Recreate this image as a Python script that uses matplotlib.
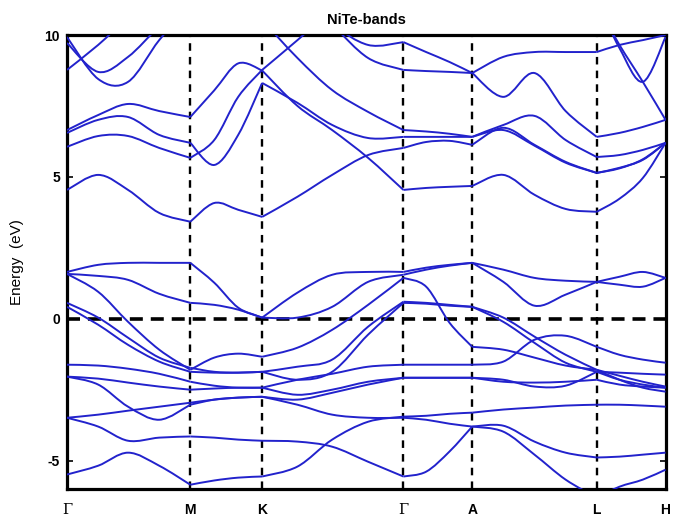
import numpy as np
import matplotlib
matplotlib.use("Agg")
import matplotlib.pyplot as plt
from matplotlib.path import Path
from matplotlib.patches import PathPatch

nan = np.nan

# High-symmetry points along the path (fractional path length)
kpoint_labels = ["Γ", "M", "K", "Γ", "A", "L", "H"]
kpoint_pos = [0.0, 0.206, 0.326, 0.562, 0.677, 0.885, 1.0]
kpoint_index = [0, 4, 7, 11, 14, 18, 21]

# k sample positions at which band energies were read
k_grid = [0.000, 0.052, 0.102, 0.154, 0.206, 0.246, 0.286, 0.326, 0.385, 0.443,
          0.503, 0.562, 0.600, 0.639, 0.677, 0.729, 0.781, 0.833, 0.885, 0.923,
          0.962, 1.000]

# Valence bands (eV)
band_v1 = [1.65, 1.90, 1.97, 1.97, 1.97, 1.27, 0.39, 0.04, 0.92, 1.55, 1.65, 1.65, 1.80, 1.90, 1.97, 1.73, 1.44, 1.34, 1.30, 1.48, 1.65, 1.44]
band_v2 = [1.58, 1.51, 1.37, 0.88, 0.56, 0.49, 0.32, 0.04, 0.04, 0.42, 1.30, 1.55, 1.73, 1.87, 1.97, 1.30, 0.46, 0.85, 1.30, 1.20, 1.13, 1.44]
band_v3 = [1.58, 0.95, -0.11, -1.09, -1.80, -1.37, -1.23, -1.34, -1.02, -0.39, 0.49, 1.44, 1.13, -0.14, -0.99, -1.09, -1.37, -1.65, -1.80, -2.01, -2.22, -2.39]
band_v4 = [0.56, 0.04, -0.67, -1.37, -1.73, -1.87, -1.90, -1.87, -1.69, -1.44, -0.28, 0.60, 0.56, 0.49, 0.42, 0.04, -0.63, -1.27, -1.80, -2.15, -2.43, -2.57]
band_v5 = [0.42, -0.21, -0.92, -1.51, -1.87, -1.90, -1.90, -1.87, -2.15, -1.87, -0.56, 0.56, 0.53, 0.46, 0.42, -0.11, -0.85, -1.55, -1.87, -1.90, -1.94, -1.97]
band_v6 = [-1.62, -1.65, -1.76, -1.94, -2.22, -2.36, -2.43, -2.43, -2.15, -1.94, -1.69, -1.62, -1.62, -1.62, -1.62, -1.51, -0.74, -0.60, -0.99, -1.27, -1.44, -1.55]
band_v7 = [-2.04, -2.11, -2.25, -2.39, -2.50, -2.46, -2.43, -2.43, -2.68, -2.50, -2.22, -2.08, -2.08, -2.08, -2.08, -2.15, -2.39, -2.36, -1.87, -2.15, -2.32, -2.43]
band_v8 = [-2.04, -2.32, -3.10, -3.56, -3.03, -2.85, -2.78, -2.75, -2.85, -2.61, -2.32, -2.08, -2.08, -2.08, -2.08, -2.22, -2.25, -2.22, -2.15, -2.32, -2.39, -2.43]
band_v9 = [-3.49, -3.38, -3.24, -3.10, -2.96, -2.85, -2.78, -2.75, -3.03, -3.38, -3.49, -3.49, -3.56, -3.70, -3.80, -3.77, -4.33, -4.72, -4.89, -4.86, -4.79, -4.72]
band_v10 = [-3.49, -3.80, -4.30, -4.19, -4.15, -4.19, -4.26, -4.30, -4.33, -4.51, -5.04, -5.56, -5.39, -4.68, -3.80, -3.98, -4.79, -5.67, -6.30, -5.92, -5.67, -5.32]
band_v11 = [-5.49, -5.18, -4.72, -5.18, -5.85, -5.70, -5.60, -5.56, -5.21, -4.26, -3.63, -3.45, -3.42, -3.35, -3.31, -3.20, -3.13, -3.06, -3.03, -3.03, -3.06, -3.10]

# Conduction bands (eV)
band_c1 = [4.54, 5.07, 4.54, 3.73, 3.42, 4.08, 3.84, 3.59, 4.30, 5.07, 5.77, 6.02, 6.23, 6.27, 6.13, 6.73, 6.13, 5.53, 5.14, 5.32, 5.60, 6.20]
band_c2 = [6.06, 6.44, 6.44, 6.02, 5.67, 6.30, 7.82, 8.77, 9.82, 10.88, 11.94, nan, nan, nan, nan, nan, nan, nan, nan, nan, nan, nan]
band_c3 = [6.55, 7.01, 7.11, 6.48, 6.20, 5.42, 6.48, 8.31, 7.61, 6.83, 6.37, 6.41, 6.41, 6.41, 6.41, 6.83, 7.15, 6.30, 5.70, 5.77, 5.95, 6.20]
band_c4 = [6.65, 7.18, 7.57, 7.32, 7.11, 8.05, 9.00, 8.75, 7.50, 6.65, 5.67, 4.54, 4.61, 4.65, 4.68, 5.07, 4.37, 3.87, 3.77, 4.23, 4.96, 6.20]
band_c5 = [nan, nan, nan, nan, nan, nan, nan, 10.53, 9.19, 8.06, 7.29, 6.65, 6.60, 6.52, 6.41, 6.65, 6.10, 5.50, 5.14, 5.30, 5.62, 6.20]
band_c6 = [9.93, 8.45, 8.35, 9.82, 11.06, nan, nan, nan, nan, nan, nan, nan, nan, nan, nan, nan, nan, nan, nan, nan, nan, nan]
band_c7 = [9.72, 8.70, 9.23, 10.30, 11.20, nan, nan, nan, nan, nan, nan, nan, nan, nan, nan, nan, nan, nan, nan, nan, nan, nan]
band_c8 = [8.77, 9.65, 10.60, 11.30, 12.00, nan, nan, nan, nan, nan, nan, nan, nan, nan, nan, nan, nan, nan, nan, nan, nan, nan]
band_c9 = [nan, nan, nan, nan, nan, nan, nan, 11.94, 11.41, 10.35, 9.19, 8.77, 8.73, 8.70, 8.66, 9.23, 9.40, 9.40, 9.40, 9.65, 9.82, 10.00]
band_c10 = [nan, nan, nan, nan, nan, nan, nan, 12.30, 11.60, 10.40, 9.65, 9.75, 9.40, 9.05, 8.66, 7.82, 8.66, 7.32, 6.41, 6.55, 6.76, 7.01]
band_c11 = [nan, nan, nan, nan, nan, nan, nan, nan, nan, nan, nan, nan, nan, nan, nan, nan, nan, nan, 11.23, 9.54, 8.35, 9.93]
band_c12 = [nan, nan, nan, nan, nan, nan, nan, nan, nan, nan, nan, nan, nan, nan, nan, nan, nan, nan, 11.06, 9.65, 8.35, 7.01]

bands = [band_v1, band_v2, band_v3, band_v4, band_v5, band_v6, band_v7, band_v8,
         band_v9, band_v10, band_v11, band_c1, band_c2, band_c3, band_c4, band_c5,
         band_c6, band_c7, band_c8, band_c9, band_c10, band_c11, band_c12]

y_ticks = [-5, 0, 5, 10]
y_range = (-6, 10)

LINE_COLOR = "#2222cc"


def draw_band(ax, k, e, **kw):
    k = np.asarray(k, float)
    e = np.asarray(e, float)
    for s, t in zip(kpoint_index[:-1], kpoint_index[1:]):
        ks = k[s:t + 1]
        es = e[s:t + 1]
        ok = np.isfinite(es)
        runs, cur = [], []
        for i, f in enumerate(ok):
            if f:
                cur.append(i)
            else:
                if cur:
                    runs.append(cur)
                cur = []
        if cur:
            runs.append(cur)
        for run in runs:
            if len(run) < 2:
                continue
            P = np.column_stack([ks[run], es[run]])
            n = len(P)
            verts = [P[0]]
            codes = [Path.MOVETO]
            for i in range(n - 1):
                p0 = P[i - 1] if i > 0 else P[i]
                p1, p2 = P[i], P[i + 1]
                p3 = P[i + 2] if i + 2 < n else P[i + 1]
                c1 = p1 + (p2 - p0) / 6.0
                c2 = p2 - (p3 - p1) / 6.0
                verts += [c1, c2, p2]
                codes += [Path.CURVE4] * 3
            ax.add_patch(PathPatch(Path(verts, codes), fill=False, **kw))


fig = plt.figure(figsize=(6.75, 5.25), dpi=100)
ax = fig.add_axes([0.0993, 0.0686, 0.8867, 0.8647])

for b in bands:
    draw_band(ax, k_grid, b, edgecolor=LINE_COLOR, linewidth=1.4, zorder=3)

for p in kpoint_pos[1:-1]:
    ax.axvline(p, color="black", linewidth=1.7, linestyle=(0, (3.2, 2.6)), zorder=2)
ax.axhline(0, color="black", linewidth=2.6, linestyle=(0, (3.6, 2.2)), zorder=2)

ax.set_xlim(kpoint_pos[0], kpoint_pos[-1])
ax.set_ylim(*y_range)

for sp in ax.spines.values():
    sp.set_linewidth(2.3)
    sp.set_color("black")

ax.set_yticks(y_ticks)
ax.set_yticklabels([str(v) for v in y_ticks], fontfamily="Liberation Sans",
                   fontweight="bold", fontsize=10)
ax.set_xticks(kpoint_pos)
ax.set_xticklabels(kpoint_labels, fontfamily="Liberation Sans", fontweight="bold",
                   fontsize=10)
for lbl in ax.get_xticklabels():
    if lbl.get_text() == "Γ":
        lbl.set_fontfamily("DejaVu Serif")
        lbl.set_fontweight("normal")
        lbl.set_fontsize(10.5)

ax.tick_params(axis="y", direction="in", length=4, width=1.2, left=True, right=True, pad=5)
ax.tick_params(axis="x", direction="in", length=0, pad=10)

ax.set_ylabel("Energy  (eV)", fontfamily="Liberation Sans", fontsize=11)
ax.yaxis.set_label_coords(-0.072, 0.5)
ax.set_title("NiTe-bands", fontfamily="Liberation Sans", fontweight="bold",
             fontsize=10.5, pad=8)

fig.savefig("out.png", dpi=100, facecolor="white")
